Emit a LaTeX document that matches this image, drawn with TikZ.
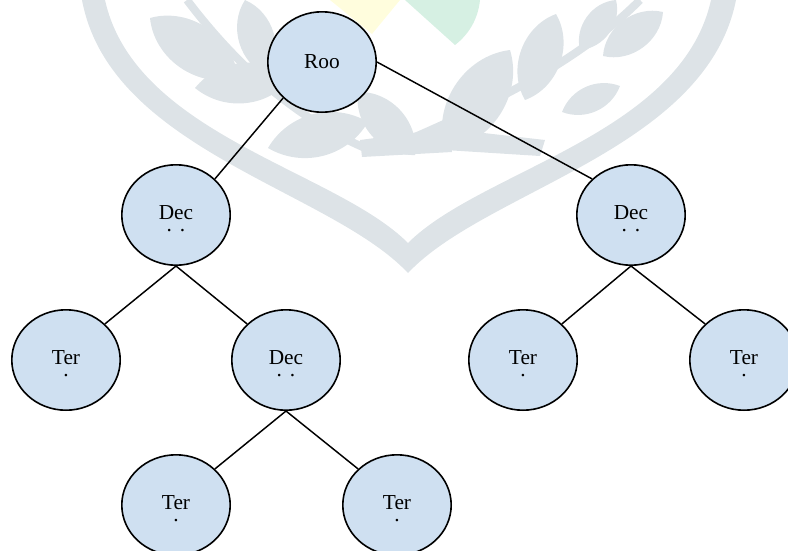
\documentclass[tikz,border=0pt]{standalone}
\usepackage{fontspec}
\setmainfont{Liberation Serif}
\usepackage{tikz}
\usepackage{xcolor}
\usetikzlibrary{shapes.geometric}

\definecolor{nodeblue}{RGB}{207,224,241}
\definecolor{wmgray}{RGB}{221,227,231}
\definecolor{wmyellow}{RGB}{255,253,221}
\definecolor{wmgreen}{RGB}{214,240,227}

\begin{document}
\begin{tikzpicture}[x=0.75pt,y=-0.75pt,-,main node/.style={ellipse,draw=black,fill=nodeblue,line width=1.2pt,minimum width=81.3pt,minimum height=75.3pt,inner sep=0pt,align=center,font=\fontsize{16}{8.5}\selectfont}]
\tikzstyle{tree edge} = [draw,line width=1.1pt,black]
\tikzstyle{leaf} = [fill=wmgray]
\clip (0,0) rectangle (788,550);

% Faint logo in the background
\fill[wmyellow] (330,0) -- (400,0) -- (372,34) -- cycle;
\fill[wmgreen] (405,0) -- (480,0) .. controls (478,20) and (468,35) .. (455,45) -- cycle;
\fill[leaf] (82,0) .. controls (110,150) and (330,190) .. (408,273)
  .. controls (486,190) and (706,150) .. (736,0) -- (711,0)
  .. controls (681,135) and (481,170) .. (408,243)
  .. controls (335,170) and (135,135) .. (105,0) -- cycle;

% left branch
\draw[wmgray,line width=6pt] (187,0) .. controls (240,70) and (300,120) .. (365,148);
\fill[leaf] (150,18) to[bend left=50] (238,78) to[bend left=50] cycle;
\fill[leaf] (195,88) to[bend left=45] (292,78) to[bend left=45] cycle;
\fill[leaf] (268,148) to[bend left=45] (368,122) to[bend left=45] cycle;
\fill[leaf] (245,0) to[bend left=50] (268,76) to[bend left=50] cycle;
\fill[leaf] (415,155) to[bend left=50] (358,92) to[bend left=50] cycle;
\fill[leaf] (360,140) -- (450,128) -- (452,152) -- (362,157) -- cycle;

% right branch
\draw[wmgray,line width=6pt] (408,140) .. controls (500,100) and (580,60) .. (640,0);
\fill[leaf] (510,50) to[bend left=50] (445,150) to[bend left=50] cycle;
\fill[leaf] (556,14) to[bend left=50] (525,100) to[bend left=50] cycle;
\fill[leaf] (616,0) to[bend left=50] (580,50) to[bend left=50] cycle;
\fill[leaf] (620,86) to[bend left=45] (562,112) to[bend left=45] cycle;
\fill[leaf] (663,12) to[bend left=50] (603,56) to[bend left=50] cycle;
\fill[leaf] (440,128) -- (545,140) -- (540,156) -- (445,150) -- cycle;

% Tree
\node[main node] (root) at (322,62) {Roo};
\node[main node] (decL) at (176,215) {\rule{0pt}{16pt}Dec\\.\hspace{6pt}.};
\node[main node] (decR) at (631,215) {\rule{0pt}{16pt}Dec\\.\hspace{6pt}.};
\node[main node] (terA) at (66,360) {\rule{0pt}{16pt}Ter\\.};
\node[main node] (decM) at (286,360) {\rule{0pt}{16pt}Dec\\.\hspace{6pt}.};
\node[main node] (terC) at (523,360) {\rule{0pt}{16pt}Ter\\.};
\node[main node] (terD) at (744,360) {\rule{0pt}{16pt}Ter\\.};
\node[main node] (terE) at (176,505) {\rule{0pt}{16pt}Ter\\.};
\node[main node] (terF) at (397,505) {\rule{0pt}{16pt}Ter\\.};

\draw[tree edge] (root.south west) -- (decL.north east);
\draw[tree edge] (root.east) -- (decR.north west);
\draw[tree edge] (decL.south) -- (terA.north east);
\draw[tree edge] (decL.south) -- (decM.north west);
\draw[tree edge] (decM.south) -- (terE.north east);
\draw[tree edge] (decM.south) -- (terF.north west);
\draw[tree edge] (decR.south) -- (terC.north east);
\draw[tree edge] (decR.south) -- (terD.north west);

\end{tikzpicture}
\end{document}
